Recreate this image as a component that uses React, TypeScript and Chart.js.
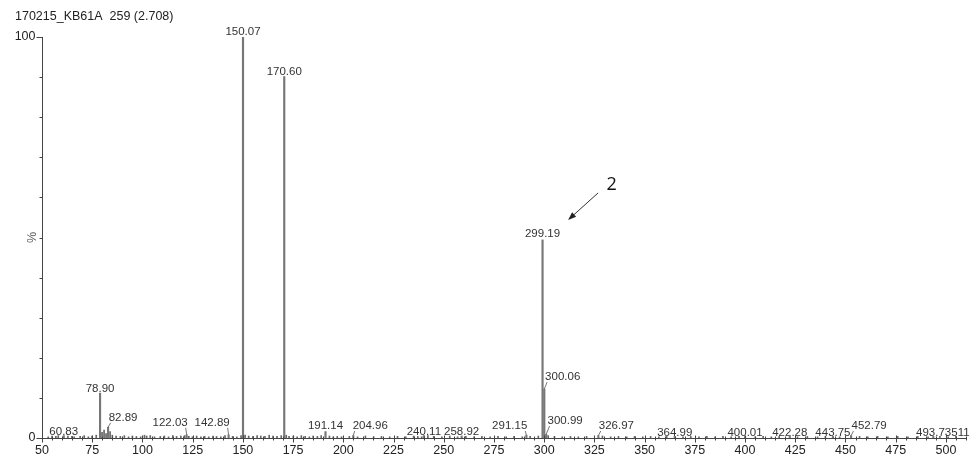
import { useEffect, useRef } from "react";
import { Chart, registerables } from "chart.js";

Chart.register(...registerables);

const spectrumTitle = "170215_KB61A  259 (2.708)";
const yAxisLabel = "%";
const calloutText = "2";

// x-axis (m/z) range and labelled tick positions
const mzMin = 50;
const mzMax = 510;
const mzTickLabels = [50, 75, 100, 125, 150, 175, 200, 225, 250, 275, 300, 325, 350, 375, 400, 425, 450, 475, 500];
const relTickLabels = [0, 100];

// annotated peaks: m/z, relative abundance (%), printed label
const peakMz = [60.83, 78.9, 82.89, 122.03, 142.89, 150.07, 170.6, 191.14, 204.96, 240.11, 258.92, 291.15, 299.19, 300.06, 300.99, 326.97, 364.99, 400.01, 422.28, 443.75, 452.79, 493.73];
const peakIntensity = [0.6, 11.2, 2.7, 0.8, 0.8, 100, 90.1, 1.6, 0.6, 0.6, 0.5, 0.7, 49.4, 12.2, 0.9, 0.6, 0.4, 0.4, 0.4, 0.4, 0.6, 0.4];
const peakLabels = ["60.83", "78.90", "82.89", "122.03", "142.89", "150.07", "170.60", "191.14", "204.96", "240.11", "258.92", "291.15", "299.19", "300.06", "300.99", "326.97", "364.99", "400.01", "422.28", "443.75", "452.79", "493.73511"];

// unlabelled baseline ions: [m/z, %]
const minorPeaks: [number, number][] = [
  [53.1, 0.3], [55.0, 0.5], [56.9, 0.4], [58.1, 0.6], [62.9, 0.5], [64.9, 0.4], [66.0, 0.3], [69.0, 0.4],
  [71.0, 0.6], [73.1, 0.3], [74.9, 0.5], [77.0, 0.7], [79.9, 1.4], [80.9, 2.0], [81.9, 1.1], [83.9, 1.6],
  [85.0, 0.7], [86.9, 0.5], [89.0, 0.4], [91.0, 0.6], [93.1, 0.3], [95.0, 0.5], [97.0, 0.4], [99.1, 0.3],
  [101.0, 0.7], [102.1, 0.5], [103.9, 0.6], [106.0, 0.3], [108.9, 0.4], [110.9, 0.5], [113.0, 0.3], [115.1, 0.6],
  [117.0, 0.4], [119.1, 0.5], [121.0, 0.6], [123.1, 0.4], [124.9, 0.3], [127.0, 0.5], [129.1, 0.3], [131.0, 0.4],
  [133.0, 0.3], [135.1, 0.5], [136.9, 0.4], [139.0, 0.3], [141.1, 0.6], [144.9, 0.4], [147.0, 0.3], [149.1, 0.6],
  [151.1, 0.7], [152.9, 0.5], [155.0, 0.4], [157.1, 0.6], [158.9, 0.5], [161.0, 0.4], [163.1, 0.7], [165.0, 0.5],
  [167.0, 0.4], [169.1, 0.6], [171.6, 0.7], [173.0, 0.4], [175.1, 0.5], [177.0, 0.3], [179.1, 0.6], [181.0, 0.4],
  [183.1, 0.3], [185.0, 0.5], [187.1, 0.4], [189.0, 0.6], [193.1, 0.5], [195.0, 0.3], [197.0, 0.4], [199.1, 0.3],
  [203.0, 0.4], [207.1, 0.3], [211.0, 0.5], [215.1, 0.3], [219.0, 0.4], [223.1, 0.3], [227.0, 0.4], [231.1, 0.3],
  [235.0, 0.5], [237.1, 0.4], [239.0, 0.3], [242.1, 0.6], [245.0, 0.4], [249.1, 0.3], [253.0, 0.5], [256.9, 0.3],
  [261.0, 0.4], [265.1, 0.3], [269.0, 0.4], [273.1, 0.3], [277.0, 0.4], [281.1, 0.3], [285.0, 0.4], [289.1, 0.3],
  [293.0, 0.4], [297.1, 0.5], [302.0, 0.6], [305.1, 0.4], [309.0, 0.3], [313.1, 0.4], [317.0, 0.3], [321.1, 0.4],
  [329.0, 0.5], [333.1, 0.3], [337.0, 0.4], [341.1, 0.3], [345.0, 0.4], [349.1, 0.3], [353.0, 0.4], [357.1, 0.3],
  [361.0, 0.4], [369.1, 0.3], [373.0, 0.4], [377.1, 0.3], [381.0, 0.4], [385.1, 0.3], [389.0, 0.4], [393.1, 0.3],
  [397.0, 0.4], [405.1, 0.3], [409.0, 0.4], [413.1, 0.3], [417.0, 0.4], [426.1, 0.3], [431.0, 0.4], [436.1, 0.3],
  [440.0, 0.4], [447.1, 0.3], [457.0, 0.4], [461.1, 0.3], [466.0, 0.4], [471.1, 0.3], [476.0, 0.4], [481.1, 0.3],
  [486.0, 0.4], [491.1, 0.3], [497.0, 0.4], [501.1, 0.3], [505.0, 0.4],
];

// where each peak label sits: horizontal shift of its centre from the peak,
// lift of its baseline above the peak top, and whether a leader line joins them
const labelPlacement: { dx: number; lift: number; leader?: boolean }[] = [
  { dx: 0, lift: 1 },
  { dx: 0, lift: 1.5 },
  { dx: 15, lift: 6.3, leader: true },
  { dx: -16.6, lift: 9, leader: true },
  { dx: -16.5, lift: 9, leader: true },
  { dx: 0, lift: 2.5 },
  { dx: 0, lift: 2 },
  { dx: 0, lift: 2.6 },
  { dx: 17, lift: 6.6, leader: true },
  { dx: 0, lift: 1 },
  { dx: 0, lift: 0.5 },
  { dx: -16.7, lift: 6.2, leader: true },
  { dx: 0, lift: 2.6 },
  { dx: 18.4, lift: 9, leader: true },
  { dx: 19, lift: 10.4, leader: true },
  { dx: 18, lift: 6.6, leader: true },
  { dx: 0, lift: 0.7 },
  { dx: 0, lift: 0.7 },
  { dx: 0, lift: 0.7 },
  { dx: 0, lift: 0.7 },
  { dx: 18, lift: 6.6, leader: true },
  { dx: 9.5, lift: 0.7 },
];

const calloutPeak = 12; // index of the peak the numbered arrow points at

const FONT = "'Liberation Sans', Arial, Helvetica, sans-serif";

const spectrumDecor = {
  id: "spectrumDecor",
  afterDraw(chart: any) {
    const { ctx, chartArea: a, scales } = chart;
    const x = scales.x;
    const y = scales.y;
    const y0 = Math.round(y.getPixelForValue(0)) + 0.5;
    const yTop = y.getPixelForValue(100);
    const xl = Math.round(a.left) + 0.5;
    ctx.save();

    // title
    ctx.fillStyle = "#222";
    ctx.font = `12.5px ${FONT}`;
    ctx.textAlign = "left";
    ctx.textBaseline = "middle";
    ctx.fillText(spectrumTitle, 15, 16.5);

    // axis lines
    ctx.strokeStyle = "#444";
    ctx.lineWidth = 1;
    ctx.beginPath();
    ctx.moveTo(xl, yTop);
    ctx.lineTo(xl, y0);
    ctx.moveTo(xl, y0);
    ctx.lineTo(a.right, y0);

    // y ticks every 10 %
    for (let v = 0; v <= 100; v += 10) {
      const py = Math.round(y.getPixelForValue(v)) + 0.5;
      const len = v === 0 || v === 100 ? 6 : 3;
      ctx.moveTo(xl - len, py);
      ctx.lineTo(xl, py);
    }
    // x ticks: minor every 5, major every 25
    for (let v = mzMin; v <= mzMax; v += 5) {
      const px = Math.round(x.getPixelForValue(v)) + 0.5;
      if (v % 25 === 0) {
        ctx.moveTo(px, y0 - 3);
        ctx.lineTo(px, y0 + 4);
      } else {
        ctx.moveTo(px, y0 - 2);
        ctx.lineTo(px, y0 + 2);
      }
    }
    ctx.stroke();

    // x tick labels
    ctx.fillStyle = "#222";
    ctx.font = `12.5px ${FONT}`;
    ctx.textAlign = "center";
    ctx.textBaseline = "middle";
    mzTickLabels.forEach((v) => ctx.fillText(String(v), x.getPixelForValue(v), y0 + 12));

    // y tick labels and title
    ctx.textAlign = "right";
    relTickLabels.forEach((v) => ctx.fillText(String(v), xl - 7, y.getPixelForValue(v)));
    ctx.save();
    ctx.translate(33, y.getPixelForValue(50));
    ctx.rotate(-Math.PI / 2);
    ctx.textAlign = "center";
    ctx.fillStyle = "#555";
    ctx.fillText(yAxisLabel, 0, 0);
    ctx.restore();

    // peak labels
    ctx.font = `11.5px ${FONT}`;
    ctx.fillStyle = "#333";
    ctx.textAlign = "center";
    ctx.textBaseline = "alphabetic";
    ctx.strokeStyle = "#555";
    ctx.lineWidth = 0.8;
    peakMz.forEach((m, i) => {
      const px = x.getPixelForValue(m);
      const top = y.getPixelForValue(peakIntensity[i]);
      const p = labelPlacement[i];
      const cx = px + p.dx;
      const base = top - p.lift;
      ctx.fillText(peakLabels[i], cx, base);
      if (p.leader) {
        const tw = ctx.measureText(peakLabels[i]).width;
        const ex = cx - Math.sign(p.dx) * (tw / 2 - 2);
        ctx.beginPath();
        ctx.moveTo(px, top);
        ctx.lineTo(ex, base + 2);
        ctx.stroke();
      }
    });

    // numbered arrow pointing at a peak label
    const cpx = x.getPixelForValue(peakMz[calloutPeak]);
    const cpy = y.getPixelForValue(peakIntensity[calloutPeak]);
    const tipX = cpx + 25.6;
    const tipY = cpy - 20;
    const tailX = cpx + 55.6;
    const tailY = cpy - 47;
    const ang = Math.atan2(tipY - tailY, tipX - tailX);
    ctx.strokeStyle = "#333";
    ctx.fillStyle = "#222";
    ctx.lineWidth = 1;
    ctx.beginPath();
    ctx.moveTo(tailX, tailY);
    ctx.lineTo(tipX - Math.cos(ang) * 5, tipY - Math.sin(ang) * 5);
    ctx.stroke();
    ctx.beginPath();
    ctx.moveTo(tipX, tipY);
    ctx.lineTo(tipX - Math.cos(ang) * 8 + Math.sin(ang) * 3, tipY - Math.sin(ang) * 8 - Math.cos(ang) * 3);
    ctx.lineTo(tipX - Math.cos(ang) * 8 - Math.sin(ang) * 3, tipY - Math.sin(ang) * 8 + Math.cos(ang) * 3);
    ctx.closePath();
    ctx.fill();
    ctx.font = `18px 'Open Sans', ${FONT}`;
    ctx.fillStyle = "#111";
    ctx.textAlign = "center";
    ctx.textBaseline = "middle";
    ctx.fillText(calloutText, cpx + 69, cpy - 55);

    ctx.restore();
  },
};

export default function App() {
  const canvasRef = useRef<HTMLCanvasElement | null>(null);

  useEffect(() => {
    if (!canvasRef.current) return;
    const chart = new Chart(canvasRef.current, {
      type: "bar",
      data: {
        datasets: [
          {
            data: minorPeaks.map(([m, v]) => ({ x: m, y: v })),
            backgroundColor: "#666",
            borderWidth: 0,
            barThickness: 1,
            grouped: false,
          },
          {
            data: peakMz.map((m, i) => ({ x: m, y: peakIntensity[i] })),
            backgroundColor: "#777",
            borderWidth: 0,
            barThickness: 1.5,
            grouped: false,
          },
        ],
      } as any,
      options: {
        responsive: false,
        animation: false,
        events: [],
        layout: { padding: { left: 42, right: 6, top: 37, bottom: 19 } },
        plugins: { legend: { display: false }, tooltip: { enabled: false } },
        scales: {
          x: { type: "linear", min: mzMin, max: mzMax, offset: false, display: false },
          y: { type: "linear", min: 0, max: 100, display: false },
        },
      } as any,
      plugins: [spectrumDecor],
    });
    return () => chart.destroy();
  }, []);

  return (
    <div style={{ position: "fixed", left: 0, top: 0, width: 972, height: 457, background: "#fff" }}>
      <canvas ref={canvasRef} width={972} height={457} />
    </div>
  );
}
